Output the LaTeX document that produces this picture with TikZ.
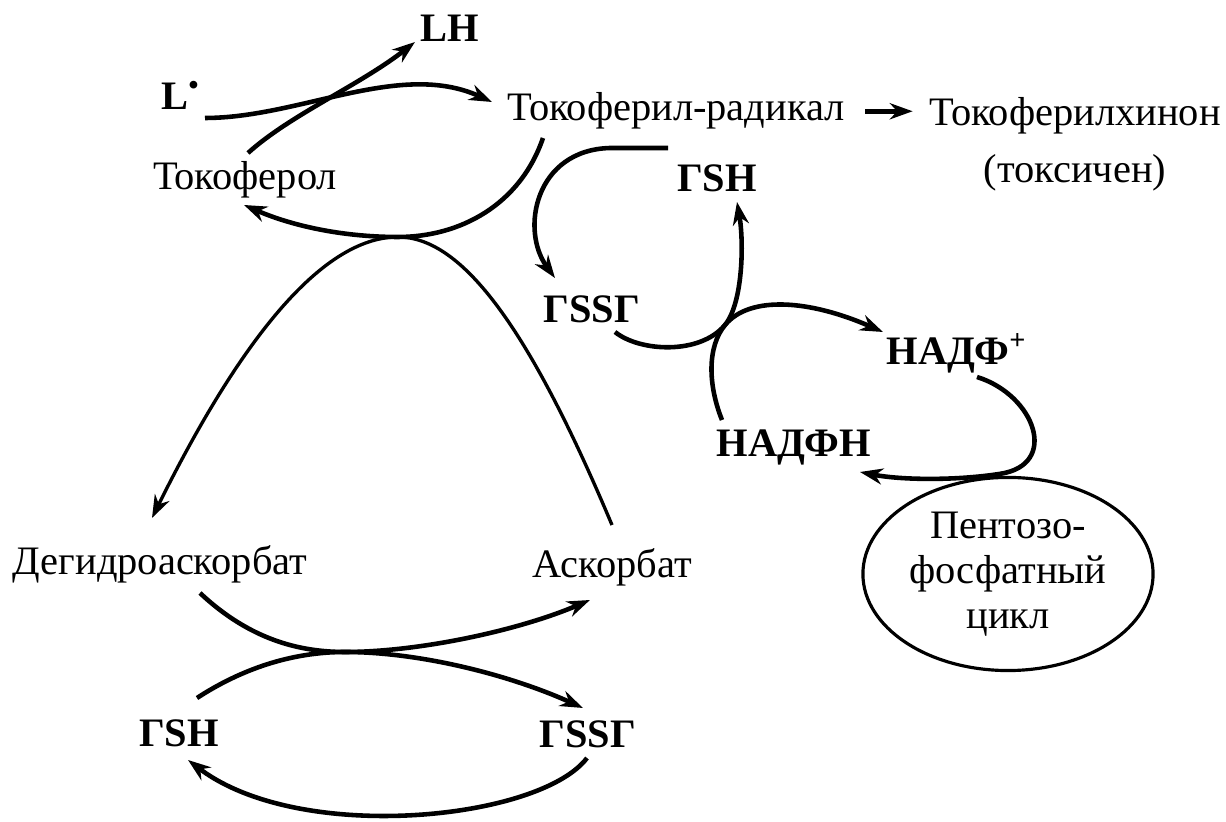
\documentclass[tikz,border=0pt]{standalone}
\usepackage{fontspec}
\setmainfont{Liberation Serif}
\usetikzlibrary{positioning, arrows.meta, calc, shapes.geometric}

\begin{document}
\begin{tikzpicture}[
    x=0.01cm, y=-0.01cm,
    >={Stealth[length=6.5pt, width=4.6pt]},
    word/.style={
        inner sep=0pt,
        anchor=base,
        font=\fontsize{11.5}{13}\selectfont
    },
    chem/.style={
        word,
        font=\fontsize{11.5}{13}\selectfont\bfseries
    },
    cyclebox/.style={
        ellipse,
        draw,
        line width=0.9pt,
        minimum width=2.9cm,
        minimum height=1.93cm,
        inner sep=0pt,
        align=center,
        font=\fontsize{11.5}{12.8}\selectfont
    },
    arrow/.style={->, line width=1.3pt},
    thinarrow/.style={->, line width=0.95pt}
]

\useasboundingbox (0,0) rectangle (1226,822);

% Tocopherol
\node[chem] (lrad) at (181,110) {L\textsuperscript{\textbullet}};
\node[chem] (lh) at (450,42) {LH};
\node[word] (tocol) at (245,190) {Токоферол};
\node[word] (tocrad) at (676,121) {Токоферил-радикал};
\node[word] (tocquin) at (1075,126) {Токоферилхинон};
\node[word, below=0.18cm of tocquin] (toxic) {(токсичен)};

% Glutathione and NADPH
\node[chem] (gsha) at (717,192) {ГSH};
\node[chem] (gssga) at (592,323) {ГSSГ};
\node[chem] (nadp) at (957,365) {НАДФ\textsuperscript{+}};
\node[chem] (nadph) at (794,457) {НАДФН};
\node[cyclebox] (ppc) at (1008,574) {Пентозо-\\фосфатный\\цикл};

% Ascorbate
\node[word] (dha) at (160,575) {Дегидроаскорбат};
\node[word] (asc) at (612,578) {Аскорбат};
\node[chem] (gshb) at (179,747) {ГSH};
\node[chem] (gssgb) at (588,748) {ГSSГ};

% Points where two curves touch
\coordinate (apex) at (398,237);
\coordinate (nadtouch) at (725,325);
\coordinate (xing) at (345,652);

% Arrows
\draw[arrow] ($(lrad.base)+(24,8)$) .. controls +(95,0) and +(-92,-42) .. ($(tocrad.base)+(-184,-19)$);
\draw[arrow] ($(tocol.base)+(3,-37)$) .. controls +(42,-38) and +(-55,43) .. ($(lh.base)+(-35,0)$);
\draw[arrow] (tocrad.east) -- (tocrad.east -| tocquin.west)
    [shorten <=0.2cm, shorten >=0.16cm];
\draw[arrow] ($(tocrad.base)+(-133,17)$) .. controls +(-23,67) and +(62,0) .. (apex)
    .. controls +(-58,0) and +(46,20) .. ($(tocol.base)+(-1,15)$);
\draw[thinarrow] ($(asc.base)+(0,-53)$) .. controls +(-82,-195) and +(65,0) .. (apex)
    .. controls +(-68,0) and +(98,-198) .. ($(dha.base)+(-8,-57)$);

\draw[arrow] ($(gsha.base)+(-49,-44)$) -- ++(-58,0)
    .. controls +(-75,2) and +(-35,-48) .. ($(gssga.base)+(-37,-45)$);
\draw[arrow] ($(nadph.base)+(-72,-37)$) .. controls +(-14,-35) and +(-18,22) .. (nadtouch)
    .. controls +(18,-22) and +(7,40) .. ($(gsha.base)+(20,10)$);
\draw[arrow] ($(gssga.base)+(23,9)$) .. controls +(25,20) and +(-25,30) .. (nadtouch)
    .. controls +(25,-30) and +(-73,-32) .. ($(nadp.base)+(-74,-33)$);
\draw[arrow] ($(nadp.base)+(20,12)$) .. controls +(58,18) and +(60,-9) .. ($(ppc.north)+(-8,-2)$)
    .. controls +(-45,7) and +(40,8) .. ($(nadph.base)+(66,15)$);

\draw[arrow] ($(dha.base)+(40,18)$) .. controls +(50,47) and +(-45,0) .. (xing)
    .. controls +(75,0) and +(-70,30) .. ($(asc.base)+(-22,22)$);
\draw[arrow] ($(gshb.base)+(18,-49)$) .. controls +(43,-28) and +(-55,0) .. (xing)
    .. controls +(75,0) and +(-73,-33) .. ($(gssgb.base)+(-5,-40)$);
\draw[arrow] ($(gssgb.base)+(-1,10)$) .. controls +(-47,62) and +(112,85) .. ($(gshb.base)+(9,13)$);

\end{tikzpicture}
\end{document}
